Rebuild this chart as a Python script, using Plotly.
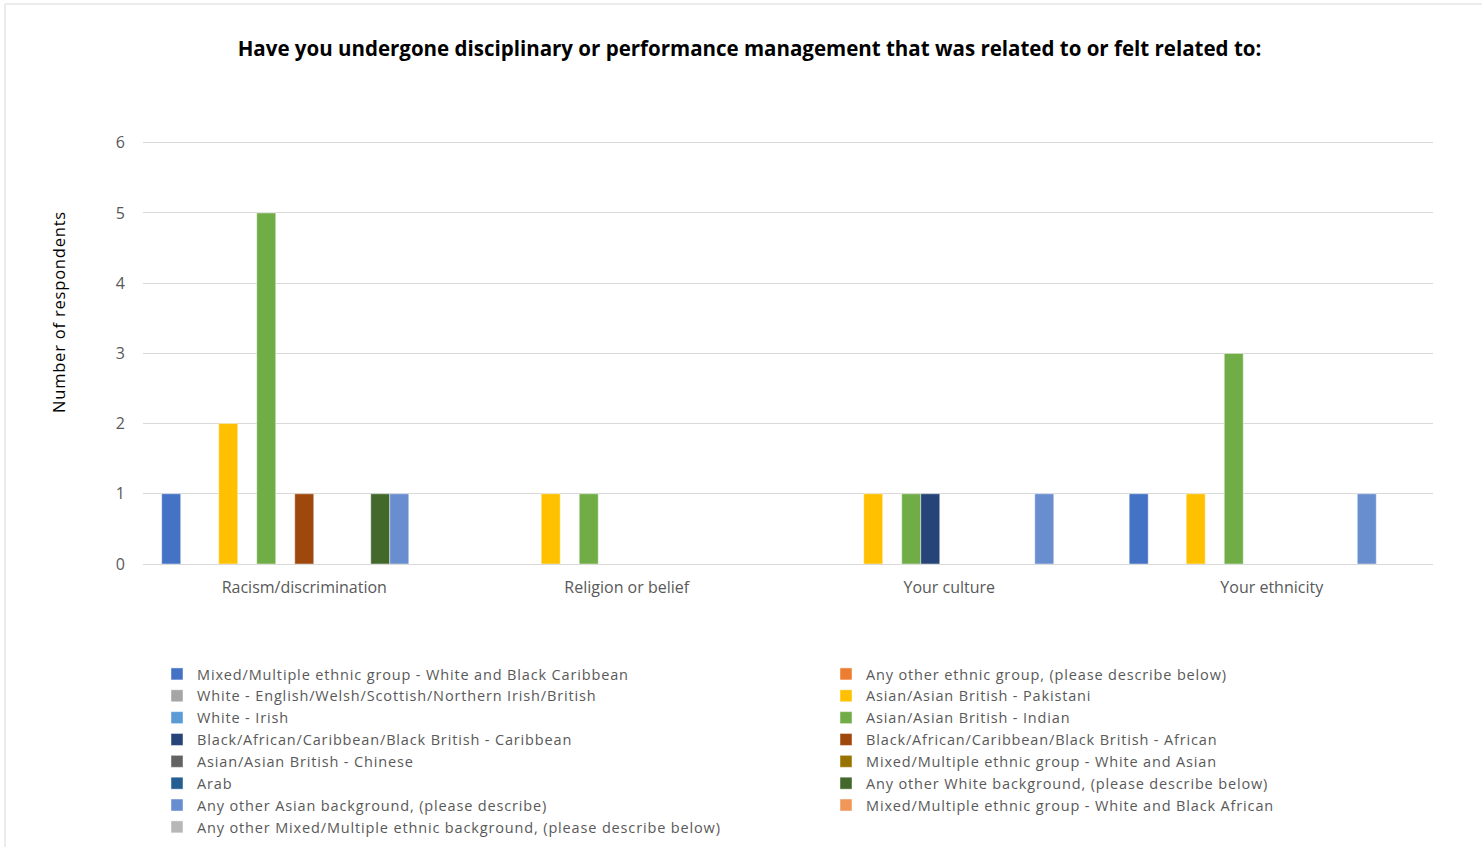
import plotly.graph_objects as go

categories = ["Racism/discrimination", "Religion or belief", "Your culture", "Your ethnicity"]

series_names = [
    "Mixed/Multiple ethnic group - White and Black Caribbean",
    "Any other ethnic group, (please describe below)",
    "White - English/Welsh/Scottish/Northern Irish/British",
    "Asian/Asian British - Pakistani",
    "White - Irish",
    "Asian/Asian British - Indian",
    "Black/African/Caribbean/Black British - Caribbean",
    "Black/African/Caribbean/Black British - African",
    "Asian/Asian British - Chinese",
    "Mixed/Multiple ethnic group - White and Asian",
    "Arab",
    "Any other White background, (please describe below)",
    "Any other Asian background, (please describe)",
    "Mixed/Multiple ethnic group - White and Black African",
    "Any other Mixed/Multiple ethnic background, (please describe below)",
]

# values per series across categories (None = no bar)
s01 = [1, None, None, 1]
s02 = [None, None, None, None]
s03 = [None, None, None, None]
s04 = [2, 1, 1, 1]
s05 = [None, None, None, None]
s06 = [5, 1, 1, 3]
s07 = [None, None, 1, None]
s08 = [1, None, None, None]
s09 = [None, None, None, None]
s10 = [None, None, None, None]
s11 = [None, None, None, None]
s12 = [1, None, None, None]
s13 = [1, None, 1, 1]
s14 = [None, None, None, None]
s15 = [None, None, None, None]
series_values = [s01, s02, s03, s04, s05, s06, s07, s08, s09, s10, s11, s12, s13, s14, s15]

colors = [
    "#4472C4", "#ED7D31", "#A5A5A5", "#FFC000", "#5B9BD5",
    "#70AD47", "#264478", "#9E480E", "#636363", "#997300",
    "#255E91", "#43682B", "#698ED0", "#F1975A", "#B7B7B7",
]

y_ticks = [0, 1, 2, 3, 4, 5, 6]

FONT = "Open Sans"
GREY = "#595959"


def spaced(text, px):
    return f'<span style="letter-spacing:{px}px">{text}</span>'


fig = go.Figure()
for i, (name, vals, col) in enumerate(zip(series_names, series_values, colors)):
    fig.add_trace(go.Bar(
        x=categories, y=vals, name=spaced(name, 0.85),
        marker=dict(color=col, line=dict(color="rgba(255,255,255,0.6)", width=0.75)),
        legend="legend" if i % 2 == 0 else "legend2",
    ))

W, H = 1482, 847
L, R, T, B = 143, 49, 141, 283
PW, PH = W - L - R, H - T - B
Y_TOP = 6.025  # small headroom so the gridline at 6 is drawn

fig.update_layout(
    width=W, height=H,
    margin=dict(l=L, r=R, t=T, b=B, autoexpand=False),
    paper_bgcolor="white", plot_bgcolor="white",
    font=dict(family=FONT, color=GREY, size=16),
    barmode="group", bargap=0.116, bargroupgap=0,
    title=dict(
        text="<b>Have you undergone disciplinary or performance management that was related to or felt related to:</b>",
        font=dict(family=FONT, size=20.5, color="black"),
        x=749.5 / W, xref="container", xanchor="center",
        y=1 - 49 / H, yref="container", yanchor="middle",
    ),
    xaxis=dict(
        showgrid=False, showline=True, linecolor="#D9D9D9", linewidth=1,
        ticks="", tickfont=dict(size=16, color=GREY, family=FONT),
        ticklabelstandoff=9,
    ),
    yaxis=dict(
        range=[0, Y_TOP], tickvals=y_ticks, showgrid=True, gridcolor="#D9D9D9", gridwidth=1,
        zeroline=False, showline=False, ticks="",
        tickfont=dict(size=16, color=GREY, family=FONT),
        ticklabelstandoff=17,
    ),
    legend=dict(
        xref="container", yref="container",
        x=157 / W, y=1 - 658 / H, xanchor="left", yanchor="top",
        orientation="v", font=dict(size=14.5, color=GREY, family=FONT),
        bgcolor="rgba(0,0,0,0)", itemclick=False, itemdoubleclick=False,
    ),
    legend2=dict(
        xref="container", yref="container",
        x=826 / W, y=1 - 658 / H, xanchor="left", yanchor="top",
        orientation="v", font=dict(size=14.5, color=GREY, family=FONT),
        bgcolor="rgba(0,0,0,0)", itemclick=False, itemdoubleclick=False,
    ),
    annotations=[dict(
        text=spaced("Number of respondents", 0.8), textangle=-90,
        xref="paper", yref="paper",
        x=(58 - L) / PW, y=(H - B - 312) / PH,
        xanchor="center", yanchor="middle", showarrow=False,
        font=dict(family=FONT, size=16.5, color="black"),
    )],
    shapes=[dict(
        type="rect", xref="paper", yref="paper",
        x0=(5 - L) / PW, x1=(W + 10 - L) / PW,
        y0=(H - B - H - 10) / PH, y1=(H - B - 4) / PH,
        line=dict(color="#D9D9D9", width=1), fillcolor="rgba(0,0,0,0)", layer="below",
    )],
)

fig.write_html(
    "out.html",
    config={"displayModeBar": False},
    post_script="document.body.style.margin='0';document.body.style.overflow='hidden';",
)
